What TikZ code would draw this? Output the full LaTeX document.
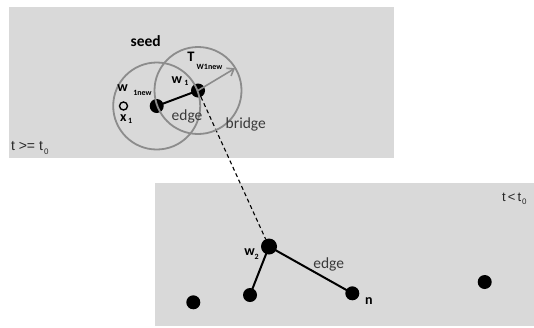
\documentclass[tikz,border=0pt]{standalone}
\usepackage{fontspec}
\setmainfont{Carlito}
\newfontfamily\arialf{Liberation Sans}
\usetikzlibrary{arrows.meta}
\definecolor{bg}{HTML}{D9D9D9}
\definecolor{ring}{HTML}{8C8C8C}
\definecolor{txt}{HTML}{3A3A3A}
\tikzset{
  panel/.style={fill=bg, draw=none},
  dot/.style={circle, fill=black, inner sep=0pt, minimum size=#1},
  dot/.default=14pt,
  lbl/.style={anchor=base west, inner sep=0pt, outer sep=0pt},
  blbl/.style={lbl, font=\bfseries\fontsize{14}{16}\selectfont},
  sublbl/.style={lbl, font=\bfseries\fontsize{8}{9}\selectfont},
  rlbl/.style={lbl, text=txt, font=\fontsize{15.5}{18}\selectfont},
  tlbl/.style={lbl, text=black!85, font=\arialf\fontsize{14}{16}\selectfont},
  tsub/.style={lbl, text=black!85, font=\arialf\fontsize{8}{9}\selectfont},
  edgeline/.style={line width=2pt, black},
  ringline/.style={line width=1.8pt, ring},
}
\begin{document}
\begin{tikzpicture}[x=1pt,y=-1pt]
\useasboundingbox (0,0) rectangle (534,327);
% panels
\fill[panel] (8.5,6.7) rectangle (393.5,157.7);
\fill[panel] (155,182.7) rectangle (534,326);
% dots
\node[dot] (w1new) at (156.7,106) {};
\node[dot] (w1) at (198,90.5) {};
\node[dot=16pt] (w2) at (269,246.5) {};
\node[dot] (a) at (250,295) {};
\node[dot] (n) at (352.3,293.3) {};
\node[dot] (b) at (193.3,302.3) {};
\node[dot] (c) at (484.7,282) {};
% edges
\draw[edgeline] (w1new.center) -- (w1.center);
\draw[edgeline] (w2.center) -- (a.center);
\draw[edgeline] (w2.center) -- (n.center);
\draw[black, line width=1.1pt, dash pattern=on 4pt off 3pt] (w1.center) -- (w2);
% circles
\draw[ringline] (w1new.center) circle[radius=43.5];
\draw[ringline] (w1.center) circle[radius=43.5];
% arrow
\coordinate (tip) at (235,68.3);
\draw[ring, line width=1.6pt, -{Straight Barb[length=6pt,width=9pt]}] (w1.center) -- (tip);
% x1 open circle
\node[circle, draw=black, line width=1.4pt, inner sep=0pt, minimum size=8pt] (x1) at (123.5,106) {};
% labels
\node[lbl, font=\bfseries\fontsize{15.5}{18}\selectfont] (seed) at (130.7,46) {seed};
\node[lbl, font=\bfseries\fontsize{14.5}{17}\selectfont] (T) at (187.3,61.7) {T};
\node[sublbl] (Tsub) at (196.7,69) {W1new};
\node[blbl] (w1l) at (171.7,83.3) {w};
\node[sublbl] (w1s) at (184.3,85.5) {1};
\node[blbl] (w1nl) at (117.3,91.7) {w};
\node[sublbl] (w1ns) at (133.3,95) {1new};
\node[blbl] (x1l) at (120,121) {x};
\node[sublbl] (x1s) at (128,123.5) {1};
\node[rlbl] (edge1) at (171.7,120) {edge};
\node[rlbl] (bridge) at (225.7,128.3) {bridge};
\node[tlbl] (tge) at (11,150.7) {t >= t};
\node[tsub] (tges) at (44,154) {0};
\node[tlbl, font=\arialf\fontsize{13}{15}\selectfont] (tlt) at (502,201.7) {t\,<\,t};
\node[tsub] (tlts) at (522,204.5) {0};
\node[blbl] (w2l) at (244.3,255.7) {w};
\node[sublbl] (w2s) at (254.5,259) {2};
\node[rlbl] (edge2) at (313.3,268.3) {edge};
\node[blbl] (nl) at (365,304) {n};
\end{tikzpicture}
\end{document}
